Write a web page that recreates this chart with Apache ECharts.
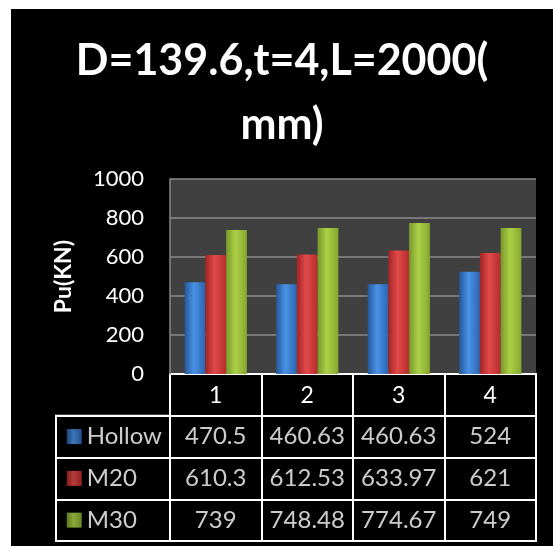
<!DOCTYPE html>
<html><head><meta charset="utf-8">
<script src="https://cdn.jsdelivr.net/npm/echarts@6/dist/echarts.min.js"></script>
<style>html,body{margin:0;padding:0;background:#fff;width:553px;height:546px;overflow:hidden}
#c{position:absolute;left:11px;top:9px;width:542px;height:537px}</style>
</head><body><div id="c"></div>
<script>
const titleText = 'D=139.6,t=4,L=2000(\nmm)';
const categories = ['1', '2', '3', '4'];
const seriesNames = ['Hollow', 'M20', 'M30'];
const hollow = [470.5, 460.63, 460.63, 524];
const m20 = [610.3, 612.53, 633.97, 621];
const m30 = [739, 748.48, 774.67, 749];
const yTicks = [0, 200, 400, 600, 800, 1000];
const yName = 'Pu(KN)';

const seriesData = [hollow, m20, m30];
const palettes = [
  ['#24579a', '#4b93e6', '#2a65b0'],
  ['#a42424', '#e24a4a', '#b52c2c'],
  ['#77992a', '#aed047', '#84a82e']
];
function grad(p) {
  return new echarts.graphic.LinearGradient(0, 0, 1, 0, [
    {offset: 0, color: p[0]}, {offset: 0.45, color: p[1]}, {offset: 1, color: p[2]}
  ]);
}
const FONT = 'Lato';
const chart = echarts.init(document.getElementById('c'));
const tableRows = ['hdr'].concat(seriesNames);

const series = [];
seriesNames.forEach((n, i) => {
  series.push({
    name: n, type: 'bar', xAxisIndex: 0, yAxisIndex: 0,
    data: seriesData[i], barGap: '0%', barCategoryGap: '32%',
    itemStyle: {color: grad(palettes[i])}
  });
});
const cellData = [];
seriesNames.forEach((n, i) => {
  categories.forEach((c, j) => cellData.push([c, n, seriesData[i][j]]));
});
series.push({
  type: 'scatter', xAxisIndex: 1, yAxisIndex: 1, symbolSize: 0, data: cellData,
  silent: true,
  label: {show: true, position: 'inside', color: '#fff', fontFamily: FONT, fontSize: 24,
    formatter: p => String(p.value[2])}
});
series.push({
  type: 'scatter', xAxisIndex: 2, yAxisIndex: 2, symbol: 'rect', symbolSize: [15, 15],
  silent: true,
  data: seriesNames.map((n, i) => ({value: [0.16, n], itemStyle: {color: grad(palettes[i])}})),
  label: {show: true, position: 'right', distance: 5, color: '#fff', fontFamily: FONT, fontSize: 24,
    formatter: p => p.value[1]}
});

chart.setOption({
  backgroundColor: '#000',
  animation: false,
  title: {
    text: titleText, left: 'center', top: 15,
    textStyle: {color: '#fff', fontFamily: FONT, fontWeight: 'bold', fontSize: 43, lineHeight: 64}
  },
  grid: [
    {left: 159, top: 170, width: 366, height: 195, show: true, backgroundColor: '#404040', borderWidth: 0},
    {left: 159, top: 365, width: 366, height: 167, show: true, borderColor: '#fff', borderWidth: 2, backgroundColor: 'transparent'},
    {left: 45, top: 406.75, width: 114, height: 125.25, show: true, borderColor: '#fff', borderWidth: 2, backgroundColor: 'transparent'}
  ],
  xAxis: [
    {type: 'category', gridIndex: 0, data: categories,
      axisLine: {show: false}, axisTick: {show: false},
      axisLabel: {color: '#fff', fontFamily: FONT, fontSize: 23, margin: 10}},
    {type: 'category', gridIndex: 1, data: categories,
      axisLine: {show: false}, axisTick: {show: false}, axisLabel: {show: false},
      splitLine: {show: true, interval: 0, lineStyle: {color: '#fff', width: 2}}},
    {type: 'value', gridIndex: 2, min: 0, max: 1, show: false}
  ],
  yAxis: [
    {type: 'value', gridIndex: 0, min: 0, max: 1000, interval: 200,
      axisLine: {show: true, lineStyle: {color: '#8a8a8a', width: 1.5}}, axisTick: {show: false},
      splitLine: {lineStyle: {color: '#8a8a8a', width: 1.5}},
      axisLabel: {color: '#fff', fontFamily: FONT, fontSize: 22, margin: 26,
        formatter: v => yTicks.includes(v) ? String(v) : ''},
      name: yName, nameLocation: 'middle', nameRotate: 90, nameGap: 95,
      nameTextStyle: {color: '#fff', fontFamily: FONT, fontWeight: 'bold', fontSize: 23}},
    {type: 'category', gridIndex: 1, data: tableRows, inverse: true,
      axisLine: {show: false}, axisTick: {show: false}, axisLabel: {show: false},
      splitLine: {show: true, interval: 0, lineStyle: {color: '#fff', width: 2}}},
    {type: 'category', gridIndex: 2, data: seriesNames, inverse: true,
      axisLine: {show: false}, axisTick: {show: false}, axisLabel: {show: false},
      splitLine: {show: true, interval: 0, lineStyle: {color: '#fff', width: 2}}}
  ],
  series: series
});
</script></body></html>
